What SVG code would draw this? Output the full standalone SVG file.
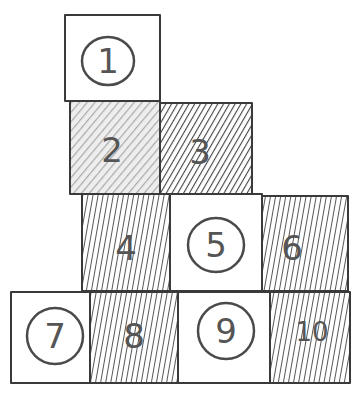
<svg xmlns="http://www.w3.org/2000/svg" width="358" height="394" viewBox="0 0 358 394">
<style>
.cell{stroke:#3a3a3a;stroke-width:2;stroke-linejoin:round}
.num{font-family:"DejaVu Sans",sans-serif;font-size:34px;fill:#555;text-anchor:middle;dominant-baseline:central}
.ring{fill:none;stroke:#4a4a4a;stroke-width:2.5}
</style>
<defs>
<pattern id="light" patternUnits="userSpaceOnUse" width="6" height="6" patternTransform="rotate(40)">
<rect width="6" height="6" fill="#eee"/>
<line x1="0" y1="0" x2="0" y2="6" stroke="#aaa" stroke-width="2.4"/>
</pattern>
<pattern id="dark" patternUnits="userSpaceOnUse" width="5" height="5" patternTransform="rotate(30)">
<rect width="5" height="5" fill="#fff"/>
<line x1="0" y1="0" x2="0" y2="5" stroke="#444" stroke-width="2.2"/>
</pattern>
<pattern id="vert" patternUnits="userSpaceOnUse" width="5" height="5" patternTransform="rotate(10)">
<rect width="5" height="5" fill="#fff"/>
<line x1="0" y1="0" x2="0" y2="5" stroke="#444" stroke-width="1.8"/>
</pattern>
</defs>
<g id="cell1"><rect class="cell" x="65" y="15" width="95" height="86" fill="#fff"/><ellipse class="ring" cx="108" cy="61" rx="26" ry="24"/><text class="num" x="108" y="61">1</text></g>
<g id="cell2"><rect class="cell" x="70" y="101" width="90" height="93" fill="url(#light)"/><text class="num" x="112" y="150">2</text></g>
<g id="cell3"><rect class="cell" x="160" y="103" width="92" height="91" fill="url(#dark)"/><text class="num" x="200" y="152">3</text></g>
<g id="cell4"><rect class="cell" x="82" y="194" width="88" height="97" fill="url(#vert)"/><text class="num" x="126" y="248">4</text></g>
<g id="cell5"><rect class="cell" x="170" y="194" width="92" height="97" fill="#fff"/><ellipse class="ring" cx="216" cy="245" rx="28" ry="27"/><text class="num" x="216" y="245">5</text></g>
<g id="cell6"><rect class="cell" x="262" y="196" width="86" height="95" fill="url(#vert)"/><text class="num" x="292" y="248">6</text></g>
<g id="cell7"><rect class="cell" x="11" y="292" width="79" height="91" fill="#fff"/><ellipse class="ring" cx="55" cy="336" rx="28" ry="28"/><text class="num" x="55" y="336">7</text></g>
<g id="cell8"><rect class="cell" x="90" y="292" width="88" height="91" fill="url(#vert)"/><text class="num" x="134" y="336">8</text></g>
<g id="cell9"><rect class="cell" x="178" y="292" width="92" height="91" fill="#fff"/><ellipse class="ring" cx="226" cy="331" rx="28" ry="28"/><text class="num" x="226" y="331">9</text></g>
<g id="cell10"><rect class="cell" x="270" y="292" width="80" height="91" fill="url(#vert)"/><text class="num" x="312" y="332" style="font-size:26px">10</text></g>
<g id="connectors"></g>
</svg>
